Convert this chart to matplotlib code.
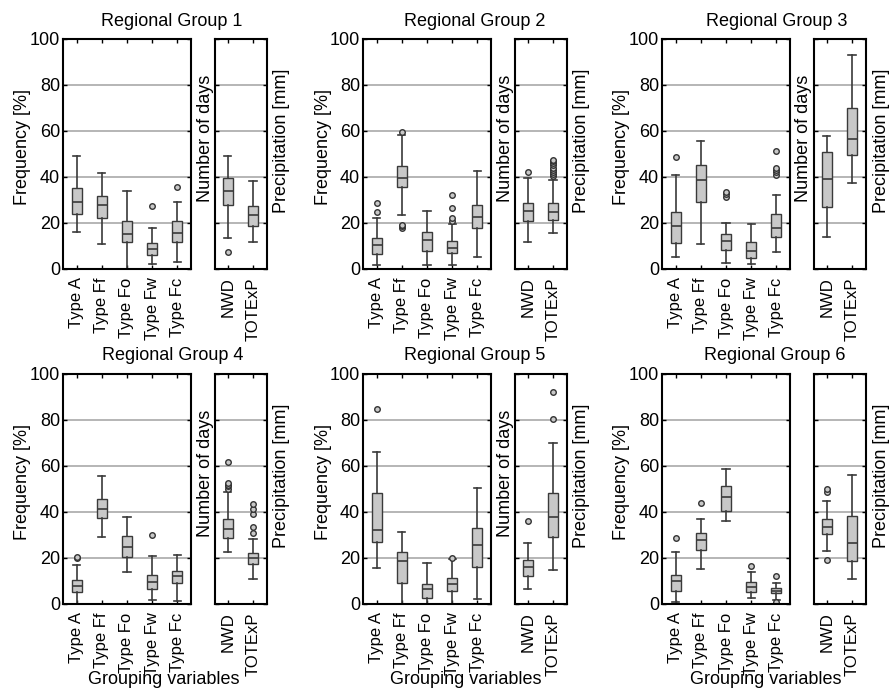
import matplotlib.pyplot as plt

plt.rcParams['font.family'] = ['Liberation Sans', 'DejaVu Sans']

# --- data ---
TYPES = ["Type A", "Type Ff", "Type Fo", "Type Fw", "Type Fc"]
INDICES = ["NWD", "TOTExP"]
GROUPS = ["Regional Group 1", "Regional Group 2", "Regional Group 3",
          "Regional Group 4", "Regional Group 5", "Regional Group 6"]

# circulation types, one row per regional group
type_low = [[16, 10.7, 0, 2.2, 2.9],
            [1.7, 23.5, 1.7, 1.7, 5.2],
            [5.1, 10.7, 2.6, 2.3, 7.5],
            [0, 29, 13.8, 1.9, 1.2],
            [15.5, 0, 0, 0, 2],
            [0.8, 15.4, 36.1, 2.6, 1.9]]
type_q1 = [[23.8, 22, 11.6, 6.2, 11.7],
           [6.7, 35.5, 7.8, 7.1, 17.7],
           [11.4, 29.1, 8.3, 4.8, 13.9],
           [5.1, 37.4, 20.4, 6.7, 9.1],
           [27, 9.1, 2.5, 5.5, 16.1],
           [5.8, 23.3, 40.6, 5.1, 4.6]]
type_med = [[29, 27.7, 15, 8.7, 15.8],
            [10.6, 39.7, 12.8, 9.1, 22.6],
            [18.7, 38.6, 12.3, 7.8, 17.8],
            [8, 41.3, 24.9, 9.6, 12],
            [32.3, 18.8, 6.4, 8.6, 25.8],
            [9.9, 27.8, 46.7, 7.2, 5.8]]
type_q3 = [[35, 31.6, 20.7, 11.4, 20.7],
           [13.6, 44.8, 16, 12.2, 28],
           [24.6, 45.2, 15.1, 11.6, 23.8],
           [10.3, 45.8, 29.6, 12.8, 14.5],
           [48.1, 22.6, 8.6, 11.2, 32.9],
           [12.8, 30.9, 51.4, 9.4, 7.1]]
type_high = [[49, 41.7, 34, 17.7, 29.3],
             [22.3, 58.3, 25.2, 19.5, 42.8],
             [40.9, 55.5, 20, 19.7, 32.2],
             [17.1, 55.8, 37.8, 21, 21.4],
             [66, 31.4, 17.7, 19.4, 50.4],
             [22.6, 37.1, 58.7, 13.8, 9.1]]
type_fliers = [[[], [], [], [27.4], [35.8]],
               [[24.8, 28.8], [18, 18.6, 19.1, 59.7], [], [21, 22.3, 26.7, 32], []],
               [[48.7], [], [31.3, 32.5, 33.6], [], [41, 42, 43, 44, 51.3]],
               [[20.2, 20.6], [], [], [29.9], []],
               [[85], [], [], [19.9], []],
               [[28.6], [43.9], [], [16.5], [0.9, 12]]]

# NWD / TOTExP, one row per regional group
idx_low = [[13.6, 11.7], [11.9, 15.7], [14.1, 37.2], [22.8, 10.9], [6.7, 14.8], [23.2, 10.9]]
idx_q1 = [[27.7, 18.7], [20.7, 21.4], [27.1, 49.7], [28.6, 17.5], [12.3, 29], [30.6, 18.7]]
idx_med = [[33.8, 23.5], [25, 24.9], [39.3, 56.4], [32.6, 20.1], [16.1, 37.8], [33.3, 26.5]]
idx_q3 = [[39.6, 27.5], [28.8, 28.5], [50.9, 70], [36.8, 22.2], [19, 48.1], [37, 38.1]]
idx_high = [[49.3, 38.3], [39.7, 38.5], [57.8, 93], [48.5, 28.3], [26.7, 70.1], [44.9, 55.9]]
idx_fliers = [[[7.4], []],
              [[42], [40.3, 41.2, 42.2, 43.1, 44, 45, 46, 46.8, 47.5]],
              [[], []],
              [[50.1, 51.2, 51.9, 52.8, 61.9], [30.9, 33.5, 39.3, 41.3, 43.3]],
              [[36.1], [80.6, 92.3]],
              [[19.3, 48.8, 50], []]]


def stats(lo, q1, med, q3, hi, fl):
    return [dict(whislo=a, q1=b, med=c, q3=d, whishi=e, fliers=f)
            for a, b, c, d, e, f in zip(lo, q1, med, q3, hi, fl)]


# --- layout in pixels ---
W, H = 894, 692
main_left = [63, 363, 662, 63, 363, 662]
small_left = [215, 515, 814, 215, 515, 814]
row_top = [39, 39, 39, 374, 374, 374]
AX_H = 230
MAIN_W, SMALL_W = 128, 52
title_x = [172, 475, 777, 173, 475, 775]

EDGE = '#3a3a3a'
GRID = '#b0b0b0'
FS = 13        # titles / axis labels
TS = 12        # tick labels

box_kw = dict(widths=0.4, capwidths=0.28, patch_artist=True,
              boxprops=dict(facecolor='#c8c8c8', edgecolor=EDGE, lw=1.0),
              medianprops=dict(color=EDGE, lw=1.2),
              whiskerprops=dict(color=EDGE, lw=1.2),
              capprops=dict(color=EDGE, lw=1.2),
              flierprops=dict(marker='o', ms=4, mfc='#c8c8c8', mec='#333333', mew=1.0))

fig = plt.figure(figsize=(W / 100, H / 100), dpi=100)


def style(ax):
    for s in ax.spines.values():
        s.set_linewidth(1.5)
    ax.set_ylim(0, 100)
    ax.set_yticks([0, 20, 40, 60, 80, 100])
    ax.yaxis.grid(True, color=GRID, lw=1.3)
    ax.set_axisbelow(True)
    ax.tick_params(direction='in', top=True, right=True, length=3, width=1)
    ax.tick_params(axis='x', labelsize=TS, labelrotation=90, pad=6)
    ax.tick_params(axis='y', labelsize=TS + 1, pad=2)


for i in range(6):
    bottom = 1 - (row_top[i] + AX_H) / H
    ax = fig.add_axes([main_left[i] / W, bottom, MAIN_W / W, AX_H / H])
    ax.bxp(stats(type_low[i], type_q1[i], type_med[i], type_q3[i],
                 type_high[i], type_fliers[i]),
           positions=range(1, 6), **box_kw)
    style(ax)
    ax.set_xlim(0.45, 5.55)
    ax.set_xticks(range(1, 6), TYPES)

    ax2 = fig.add_axes([small_left[i] / W, bottom, SMALL_W / W, AX_H / H])
    ax2.bxp(stats(idx_low[i], idx_q1[i], idx_med[i], idx_q3[i],
                  idx_high[i], idx_fliers[i]),
            positions=[1, 2], **box_kw)
    style(ax2)
    ax2.set_xlim(0.5, 2.55)
    ax2.set_xticks([1, 2], INDICES)
    ax2.tick_params(axis='y', labelleft=False)

    top = row_top[i]
    fig.text(title_x[i] / W, 1 - (top - 18) / H, GROUPS[i],
             ha='center', va='center', fontsize=FS)
    ylab = 1 - (top + 108) / H
    fig.text((main_left[i] - 40) / W, ylab, "Frequency [%]",
             rotation=90, ha='center', va='center', fontsize=FS)
    if i != 5:
        fig.text((small_left[i] - 10) / W, 1 - (top + 99) / H, "Number of days",
                 rotation=90, ha='center', va='center', fontsize=FS)
    fig.text((small_left[i] + SMALL_W + 15) / W, 1 - (top + 102) / H,
             "Precipitation [mm]", rotation=90, ha='center', va='center', fontsize=FS)
    if i >= 3:
        fig.text((title_x[i] - 9) / W, 1 - 680 / H, "Grouping variables",
                 ha='center', va='center', fontsize=FS)

fig.savefig('out.png', dpi=100)
